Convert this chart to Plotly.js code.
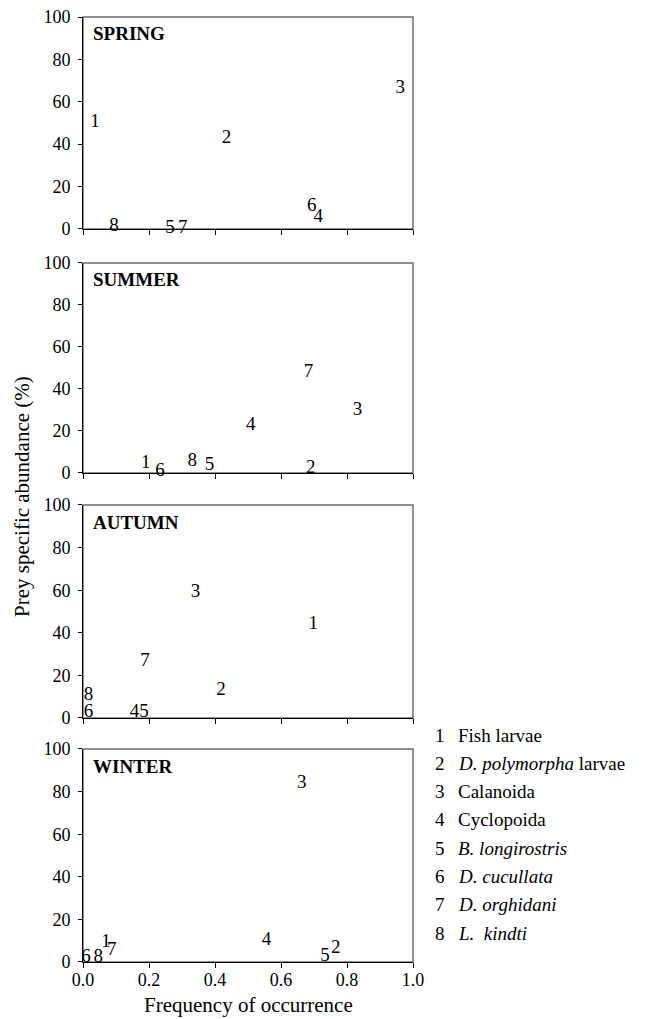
<!DOCTYPE html>
<html>
<head>
<meta charset="utf-8">
<script src="https://cdn.plot.ly/plotly-3.0.1.min.js"></script>
<style>html,body{margin:0;padding:0;background:#fff;}#chart{width:645px;height:1019px;}</style>
</head>
<body>
<div id="chart"></div>
<script>
// Prey item numbers (labels drawn at each point)
const preyNumbers = ['1','2','3','4','5','6','7','8'];
const preyNames = ['Fish larvae', '<i>D. polymorpha</i> larvae', 'Calanoida', 'Cyclopoida',
                   '<i>B. longirostris</i>', '<i>D. cucullata</i>', '<i>D. orghidani</i>', '<i>L.&nbsp; kindti</i>'];
const seasons = ['SPRING', 'SUMMER', 'AUTUMN', 'WINTER'];

// Frequency of occurrence (x) and prey specific abundance % (y), prey 1..8
const springX = [0.036, 0.435, 0.961, 0.713, 0.264, 0.693, 0.302, 0.094];
const springY = [50.5, 42.8, 66.3, 5.6, 0.2, 10.6, 0.5, 1.5];
const summerX = [0.190, 0.690, 0.832, 0.508, 0.383, 0.233, 0.683, 0.331];
const summerY = [4.4, 2.4, 30.0, 22.9, 3.9, 0.8, 47.8, 5.5];
const autumnX = [0.698, 0.418, 0.341, 0.156, 0.185, 0.017, 0.188, 0.017];
const autumnY = [44.0, 13.0, 58.8, 2.8, 2.8, 2.5, 26.7, 10.7];
const winterX = [0.070, 0.766, 0.663, 0.556, 0.733, 0.009, 0.087, 0.046];
const winterY = [9.1, 6.6, 84.0, 10.2, 2.7, 2.4, 5.5, 2.4];

const xTicks = [0, 0.2, 0.4, 0.6, 0.8, 1.0];
const xTickText = ['0.0', '0.2', '0.4', '0.6', '0.8', '1.0'];
const yTicks = [0, 20, 40, 60, 80, 100];

const FONT = '"Liberation Serif", "Times New Roman", serif';
const allX = [springX, summerX, autumnX, winterX];
const allY = [springY, summerY, autumnY, winterY];

const traces = allX.map((xs, i) => ({
  type: 'scatter', mode: 'text',
  x: xs, y: allY[i], text: preyNumbers,
  textposition: 'middle center',
  textfont: {family: FONT, size: 19, color: '#000'},
  xaxis: i === 0 ? 'x' : 'x' + (i + 1),
  yaxis: i === 0 ? 'y' : 'y' + (i + 1),
  hoverinfo: 'skip', showlegend: false, cliponaxis: false
}));

const domains = [[0.7757, 1.0], [0.5175, 0.7397], [0.2582, 0.4836], [0.0, 0.2254]];

const layout = {
  width: 645, height: 1019,
  margin: {l: 83, r: 232, t: 17, b: 57},
  paper_bgcolor: '#fff', plot_bgcolor: '#fff',
  showlegend: false,
  font: {family: FONT, color: '#000'},
  annotations: [], shapes: []
};

for (let i = 0; i < 4; i++) {
  const sfx = i === 0 ? '' : String(i + 1);
  layout['xaxis' + sfx] = {
    domain: [0, 1], range: [0, 1], anchor: 'y' + sfx,
    showgrid: false, zeroline: false, showline: true, linecolor: '#000', linewidth: 1,
    ticks: 'outside', ticklen: 5, tickcolor: '#000', tickwidth: 1,
    tickmode: 'array', tickvals: xTicks, ticktext: xTickText,
    showticklabels: i === 3, ticklabelstandoff: -4,
    tickfont: {family: FONT, size: 18, color: '#000'}, fixedrange: true
  };
  layout['yaxis' + sfx] = {
    domain: domains[i], range: [0, 100], anchor: 'x' + sfx,
    showgrid: false, zeroline: false, showline: true, linecolor: '#000', linewidth: 1,
    ticks: 'outside', ticklen: 4, tickcolor: '#000', tickwidth: 1,
    tickmode: 'array', tickvals: yTicks,
    ticklabelstandoff: 4,
    tickfont: {family: FONT, size: 18, color: '#000'}, fixedrange: true
  };
  layout.shapes.push({
    type: 'rect', xref: 'x' + sfx + ' domain', yref: 'y' + sfx + ' domain',
    x0: 0, x1: 1, y0: 0, y1: 1, line: {color: '#6e6e6e', width: 1.5}, layer: 'below'
  });
  layout.annotations.push({
    xref: 'x' + sfx + ' domain', yref: 'y' + sfx + ' domain',
    x: 0.024, y: 0.92, xanchor: 'left', yanchor: 'middle',
    text: '<b>' + seasons[i] + '</b>', showarrow: false,
    font: {family: FONT, size: 19, color: '#000'}
  });
}

// legend (numbered key)
for (let k = 0; k < 8; k++) {
  const py = 735 + 28.3 * k;
  const yp = (962 - py) / 945;
  layout.annotations.push({
    xref: 'paper', yref: 'paper', x: (440 - 83) / 330, y: yp,
    xanchor: 'center', yanchor: 'middle', showarrow: false,
    text: preyNumbers[k], font: {family: FONT, size: 19, color: '#000'}
  });
  layout.annotations.push({
    xref: 'paper', yref: 'paper', x: (456 - 83) / 330, y: yp,
    xanchor: 'left', yanchor: 'middle', showarrow: false,
    text: preyNames[k], font: {family: FONT, size: 19, color: '#000'}
  });
}

// axis titles
layout.annotations.push({
  xref: 'paper', yref: 'paper', x: 0.5, y: (962 - 1005) / 945,
  xanchor: 'center', yanchor: 'middle', showarrow: false,
  text: 'Frequency of occurrence', font: {family: FONT, size: 21, color: '#000'}
});
layout.annotations.push({
  xref: 'paper', yref: 'paper', x: (22 - 83) / 330, y: (962 - 497) / 945,
  xanchor: 'center', yanchor: 'middle', showarrow: false, textangle: -90,
  text: 'Prey specific abundance (%)', font: {family: FONT, size: 21, color: '#000'}
});

Plotly.newPlot('chart', traces, layout, {staticPlot: true, displayModeBar: false});
</script>
</body>
</html>
